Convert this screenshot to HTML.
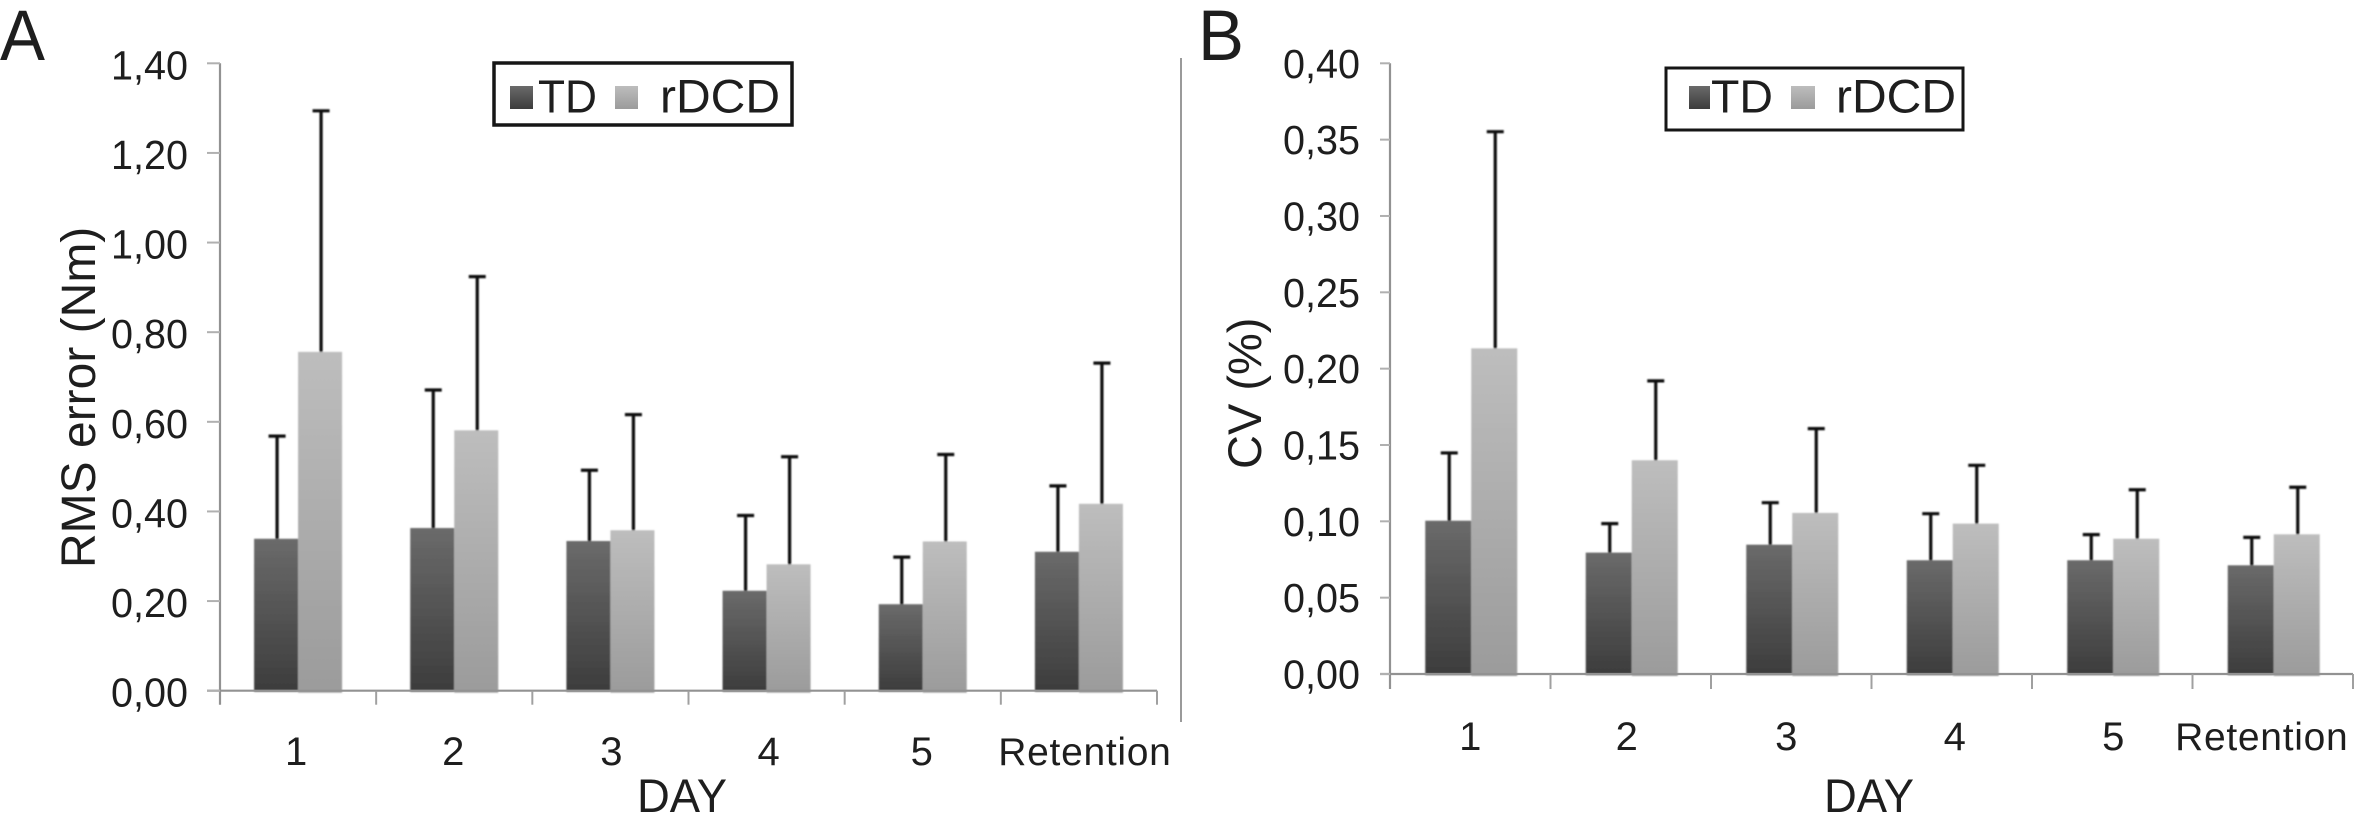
<!DOCTYPE html>
<html lang="en">
<head>
<meta charset="utf-8">
<title>RMS error and CV by day</title>
<style>
html,body{margin:0;padding:0;background:#fff;width:2354px;height:824px;overflow:hidden}
svg{display:block}
text{font-family:"Liberation Sans",Arial,sans-serif;fill:#1e1e1e}
</style>
</head>
<body>
<svg id="fig" xmlns="http://www.w3.org/2000/svg" width="2354" height="824" viewBox="0 0 2354 824">
  <defs>
    <linearGradient id="gradTD" x1="0" y1="0" x2="0" y2="1">
      <stop offset="0" stop-color="#6a6a6a"/><stop offset="1" stop-color="#3c3c3c"/>
    </linearGradient>
    <linearGradient id="gradRD" x1="0" y1="0" x2="0" y2="1">
      <stop offset="0" stop-color="#bdbdbd"/><stop offset="1" stop-color="#9b9b9b"/>
    </linearGradient>
    <filter id="soft" x="-10%" y="-10%" width="120%" height="120%"><feGaussianBlur stdDeviation="0.8"/></filter>
  </defs>

  <text x="0" y="60" font-size="71" textLength="45" lengthAdjust="spacingAndGlyphs">A</text>
  <text x="1198" y="60" font-size="71" textLength="46" lengthAdjust="spacingAndGlyphs">B</text>
  <line x1="1181" y1="58" x2="1181" y2="722" stroke="#9a9a9a" stroke-width="2"/>

  <text transform="translate(95 568) rotate(-90)" font-size="48">RMS error (Nm)</text>
  <text transform="translate(1261 469) rotate(-90)" font-size="47">CV (%)</text>
  <text x="637" y="812" font-size="47" textLength="90" lengthAdjust="spacingAndGlyphs">DAY</text>
  <text x="1824" y="812" font-size="47" textLength="90" lengthAdjust="spacingAndGlyphs">DAY</text>

  <g id="panelA"></g>
  <g id="panelB"></g>

  <g>
    <rect x="494" y="63" width="298" height="62" fill="#fff" stroke="#161616" stroke-width="3.5"/>
    <rect x="510" y="86" width="23" height="23" fill="url(#gradTD)"/>
    <text x="538" y="112.7" font-size="46" textLength="59" lengthAdjust="spacingAndGlyphs">TD</text>
    <rect x="615" y="86" width="23" height="23" fill="url(#gradRD)"/>
    <text x="660" y="112.7" font-size="47" textLength="120" lengthAdjust="spacingAndGlyphs">rDCD</text>
  </g>
  <g>
    <rect x="1666" y="68" width="297" height="62" fill="#fff" stroke="#161616" stroke-width="3"/>
    <rect x="1689" y="86" width="21" height="23" fill="url(#gradTD)"/>
    <text x="1711" y="112.7" font-size="46" textLength="62" lengthAdjust="spacingAndGlyphs">TD</text>
    <rect x="1791" y="86" width="24" height="23" fill="url(#gradRD)"/>
    <text x="1836" y="112.7" font-size="47" textLength="120" lengthAdjust="spacingAndGlyphs">rDCD</text>
  </g>
</svg>
<script>
var categories = ["1", "2", "3", "4", "5", "Retention"];

var rmsTicks = [0, 0.2, 0.4, 0.6, 0.8, 1.0, 1.2, 1.4];
var rmsTickLabels = ["0,00", "0,20", "0,40", "0,60", "0,80", "1,00", "1,20", "1,40"];
var rmsTD = [0.339, 0.363, 0.334, 0.223, 0.193, 0.31];
var rmsRDCD = [0.756, 0.581, 0.358, 0.282, 0.333, 0.417];
var rmsTDUpper = [0.568, 0.671, 0.492, 0.391, 0.298, 0.457];
var rmsRDCDUpper = [1.294, 0.924, 0.616, 0.522, 0.527, 0.731];

var cvTicks = [0, 0.05, 0.1, 0.15, 0.2, 0.25, 0.3, 0.35, 0.4];
var cvTickLabels = ["0,00", "0,05", "0,10", "0,15", "0,20", "0,25", "0,30", "0,35", "0,40"];
var cvTD = [0.1004, 0.0795, 0.0847, 0.0745, 0.0745, 0.0712];
var cvRDCD = [0.2133, 0.14, 0.1055, 0.0985, 0.0886, 0.0915];
var cvTDUpper = [0.1448, 0.0985, 0.1122, 0.105, 0.0913, 0.0895];
var cvRDCDUpper = [0.3552, 0.192, 0.1607, 0.1367, 0.1207, 0.1223];

var SVGNS = "http://www.w3.org/2000/svg";

function mk(parent, tag, attrs, txt) {
  var el = document.createElementNS(SVGNS, tag);
  for (var k in attrs) { el.setAttribute(k, attrs[k]); }
  if (txt !== undefined) { el.textContent = txt; }
  parent.appendChild(el);
  return el;
}

function drawPanel(root, cfg, ticks, tickLabels, td, rd, tdUp, rdUp) {
  var yMax = ticks[ticks.length - 1];
  function yScale(v) { return cfg.y0 - (v / yMax) * (cfg.y0 - cfg.yTop); }
  var n = categories.length;
  var band = (cfg.x1 - cfg.x0) / n;
  function xCenter(i) { return cfg.x0 + band * (i + 0.5); }

  var axisColor = "#929292";
  var markGroup = mk(root, "g", { filter: "url(#soft)" });
  
  

  categories.forEach(function (cat, i) {
    var c = xCenter(i) + cfg.barShift;
    var tdTop = yScale(td[i]);
    var rdTop = yScale(rd[i]);

    var b1 = mk(markGroup, "rect", { x: c - cfg.barW, y: tdTop, width: cfg.barW, height: cfg.y0 - tdTop + 1, fill: "url(#gradTD)" });
    
    

    var b2 = mk(markGroup, "rect", { x: c, y: rdTop, width: cfg.barW, height: cfg.y0 - rdTop + 2, fill: "url(#gradRD)" });
    
    

    var e1x = c - cfg.barW / 2 + 1;
    var e1y = yScale(tdUp[i]);
    var e1 = mk(markGroup, "path", {
      d: "M" + e1x + " " + tdTop + "V" + e1y + "M" + (e1x - 8.5) + " " + e1y + "H" + (e1x + 8.5),
      stroke: "#0e0e0e", "stroke-width": 3.2, fill: "none"
    });
    
    

    var e2x = c + cfg.barW / 2 + 1;
    var e2y = yScale(rdUp[i]);
    var e2 = mk(markGroup, "path", {
      d: "M" + e2x + " " + rdTop + "V" + e2y + "M" + (e2x - 8.5) + " " + e2y + "H" + (e2x + 8.5),
      stroke: "#0e0e0e", "stroke-width": 3.2, fill: "none"
    });
    
    
  });

  var yAxis = mk(root, "line", { x1: cfg.x0, y1: cfg.yTop, x2: cfg.x0, y2: cfg.y0 + cfg.tickDown, stroke: axisColor, "stroke-width": 2.2 });
  
  

  var xAxis = mk(root, "line", { x1: cfg.x0 - cfg.tickLeft, y1: cfg.y0, x2: cfg.x1, y2: cfg.y0, stroke: axisColor, "stroke-width": 2.2 });
  
  

  ticks.forEach(function (t, i) {
    var y = yScale(t);
    var tk = mk(root, "line", { x1: cfg.x0 - cfg.tickLeft, y1: y, x2: cfg.x0, y2: y, stroke: "#b0b0b0", "stroke-width": 2 });
    
    
    var lb = mk(root, "text", { x: cfg.yLabelX, y: y + cfg.yLabelDrop, "text-anchor": "end", "font-size": 41, textLength: 77, lengthAdjust: "spacingAndGlyphs" }, tickLabels[i]);
    
    
  });

  for (var j = 1; j <= n; j++) {
    var tx = cfg.x0 + band * j;
    var tk2 = mk(root, "line", { x1: tx, y1: cfg.y0, x2: tx, y2: cfg.y0 + cfg.tickDown, stroke: "#a0a0a0", "stroke-width": 2 });
    
    
  }

  categories.forEach(function (cat, i) {
    var isLast = i === n - 1;
    var lx = xCenter(i) + cfg.labelNudge[i];
    var attrs = { x: lx, y: cfg.xLabelY, "text-anchor": "middle", "font-size": isLast ? 39 : 40 };
    if (isLast) { attrs["letter-spacing"] = "0.7"; }
    var lb2 = mk(root, "text", attrs, cat);
    
    
  });
}

drawPanel(document.getElementById("panelA"),
  { x0: 220, x1: 1157, y0: 690.7, yTop: 63.3, barW: 44, barShift: 0, tickLeft: 13, tickDown: 14, yLabelX: 188, yLabelDrop: 16, xLabelY: 765, labelNudge: [-2, -1, 1, 2, -1, 6] },
  rmsTicks, rmsTickLabels, rmsTD, rmsRDCD, rmsTDUpper, rmsRDCDUpper);

drawPanel(document.getElementById("panelB"),
  { x0: 1390, x1: 2353, y0: 674, yTop: 63.3, barW: 46, barShift: 1, tickLeft: 10, tickDown: 15, yLabelX: 1360, yLabelDrop: 14.5, xLabelY: 750, labelNudge: [0, -4, -5, 3, 1, -11] },
  cvTicks, cvTickLabels, cvTD, cvRDCD, cvTDUpper, cvRDCDUpper);
</script>
</body>
</html>
